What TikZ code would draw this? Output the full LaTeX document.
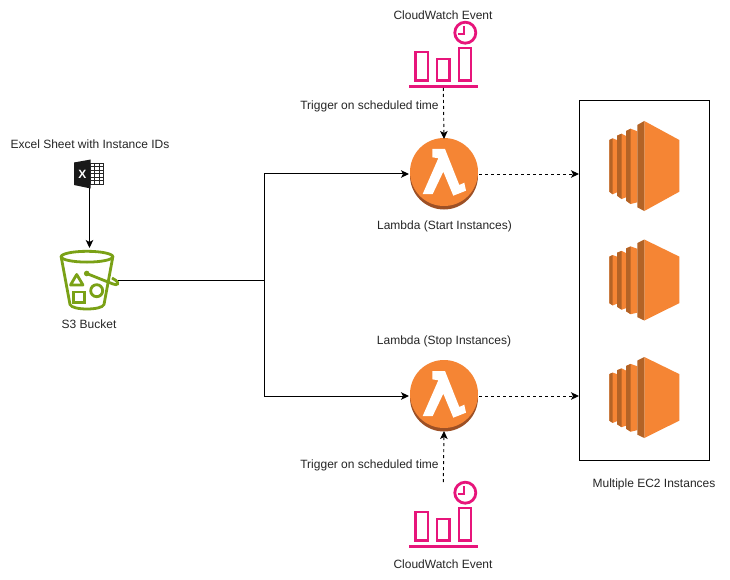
\documentclass[tikz,border=0pt]{standalone}
\usepackage{fontspec}
\setmainfont{Liberation Sans}
\usepackage{tikz}
\usetikzlibrary{arrows.meta}

\definecolor{awsorange}{HTML}{F58534}
\definecolor{awsdark}{HTML}{9D5025}
\definecolor{awsmid}{HTML}{B36326}
\definecolor{s3green}{HTML}{7AA116}
\definecolor{cwpink}{HTML}{E7157B}

\tikzset{
  label/.style={font=\fontsize{12}{14}\selectfont, text=black!85, inner sep=0pt},
  iconbox/.style={inner sep=0pt, outer sep=0pt},
  flow/.style={-{Stealth[length=8pt,width=7.5pt,inset=2pt]}, line width=1pt},
  sched/.style={-{Stealth[length=8pt,width=7.5pt,inset=2pt]}, line width=0.9pt, dash pattern=on 3pt off 3pt},
  lambdaicon/.pic={
    \fill [awsdark] (0,1.5) circle [radius=34];
    \fill [awsorange] (0,-2) circle [radius=34];
    \begin{scope}[yshift=2pt]
    \fill [white] (-11.7,-23) -- (1,-23) -- (15.3,13) -- (20.3,10.7) -- (22,18.7) -- (9.3,23.7) -- (-0.7,-0.3)
      -- (-11.3,22) -- (-21.3,22) -- (-5.7,-13.7) -- (-11.7,-14.7) -- cycle;
    \end{scope}
  },
  ectwoicon/.pic={
    \fill [awsorange] (-34.7,-26) -- (-31.3,-27.7) -- (-27,-26) -- (-27,26.3) -- (-31.3,28.3) -- (-34.7,25.7) -- cycle;
    \fill [awsmid] (-34.7,-26) -- (-31.3,-27.7) -- (-31.3,28.3) -- (-34.7,25.7) -- cycle;
    \fill [awsorange] (-27,-30.3) -- (-22.3,-32.3) -- (-18,-30) -- (-18,31.3) -- (-22.3,33) -- (-27,29.7) -- cycle;
    \fill [awsmid] (-27,-30.3) -- (-22.3,-32.3) -- (-22.3,33) -- (-27,29.7) -- cycle;
    \fill [awsorange] (-18,-35) -- (-13.3,-37.3) -- (-6.7,-34.7) -- (-6.7,36.3) -- (-13.3,38) -- (-18,34.7) -- cycle;
    \fill [awsmid] (-18,-35) -- (-13.3,-37.3) -- (-13.3,38) -- (-18,34.7) -- cycle;
    \fill [awsorange] (0.3,-45) -- (35.3,-26) -- (35.3,25.7) -- (0.3,45) -- cycle;
    \fill [awsmid] (-6.7,-41) -- (0.3,-45) -- (0.3,45) -- (-6.7,41.3) -- cycle;
  },
  watchicon/.pic={
    \begin{scope}[cwpink, line width=2.8pt]
    \draw (-27.7,-3) rectangle (-15.3,25.4);
    \draw (-6.3,4) rectangle (6.4,25.4);
    \draw (15.7,-7) rectangle (27.7,25.4);
    \draw (-34,31.7) -- (34.3,31.7);
    \draw (22,-22.3) circle [radius=10.5];
    \draw [line width=2pt] (21,-29) -- (21,-20.7) -- (14.4,-20.7);
    \end{scope}
  },
}

\begin{document}
\begin{tikzpicture}[x=1pt, y=-1pt]
\useasboundingbox (0,0) rectangle (730,580);
\fill [white] (0,0) rectangle (730,580);

% excel sheet
\node [label] (excellabel) at (90,144) {Excel Sheet with Instance IDs};
\node [iconbox, minimum width=30pt, minimum height=28pt] (excel) at (89.5,174) {};
\fill [black!90] (74,162.5) -- (90.7,159.5) -- (90.7,188.5) -- (74,185) -- cycle;
\node [iconbox, white, font=\fontsize{12}{12}\selectfont\bfseries] (excelx) at (82.3,174) {X};
\draw [black!85, line width=0.8pt] (90.7,163.5) rectangle (103.7,184);
\foreach \y in {166.5,170,173.5,177,180.5} \draw [black!85, line width=0.8pt] (90.7,\y) -- (103.7,\y);
\foreach \x in {94.5,99} \draw [black!85, line width=0.8pt] (\x,163.5) -- (\x,184);

% s3 bucket
\node [iconbox, minimum width=62pt, minimum height=64pt] (bucket) at (87,280) {};
\begin{scope}[s3green, line width=2.8pt]
\draw (87,256.7) circle [x radius=25.8, y radius=5.4];
\draw (61.2,257) -- (70,304.5) .. controls (72,310.5) and (102,310.5) .. (104,304.5) -- (112.8,257);
\draw (86.7,273.5) -- (113,284) .. controls (118,286) and (119,283) .. (116,280.5) -- (112,278);
\fill (86.7,273.5) circle [radius=2.8];
\draw [line join=round] (76.7,274.5) -- (70.5,285) -- (83,285) -- cycle;
\draw (73.7,292) rectangle (84.3,302.5);
\draw (96.7,290.7) circle [radius=6];
\end{scope}
\node [label] (bucketlabel) at (89,324) {S3 Bucket};

% top lambda with its event
\node [label] (eventtoplabel) at (443,15) {CloudWatch Event};
\node [iconbox, minimum width=68pt, minimum height=66pt] (eventtop) at (443.3,55) {};
\pic at (eventtop.center) {watchicon};
\node [label] (triggertop) at (369.5,106) {Trigger on scheduled time};
\node [iconbox, circle, minimum size=70pt] (lambdastart) at (444,174) {};
\pic at (lambdastart.center) {lambdaicon};
\node [label] (startlabel) at (444.5,226) {Lambda (Start Instances)};

% bottom lambda with its event
\node [label] (stoplabel) at (444,341) {Lambda (Stop Instances)};
\node [iconbox, circle, minimum size=70pt] (lambdastop) at (444,396) {};
\pic at (lambdastop.center) {lambdaicon};
\node [label] (triggerbottom) at (369.5,465) {Trigger on scheduled time};
\node [iconbox, minimum width=68pt, minimum height=66pt] (eventbottom) at (443.3,515) {};
\pic at (eventbottom.center) {watchicon};
\node [label] (eventbottomlabel) at (443,564) {CloudWatch Event};

% instances
\node [draw, line width=0.8pt, iconbox, minimum width=130pt, minimum height=360pt] (ectwobox) at (644,280) {};
\pic at (644,166) {ectwoicon};
\pic [yscale=0.9] at (644,280) {ectwoicon};
\pic [yscale=0.9] at (644,397.5) {ectwoicon};
\node [label] (ectwolabel) at (654,484) {Multiple EC2 Instances};

\draw [flow] (excel.south) -- (excel.south |- bucket.north);
\draw [flow] (bucket.east) -- (264,280) |- (lambdastart.west);
\draw [flow] (bucket.east) -- (264,280) |- (lambdastop.west);
\draw [sched] (eventtop.south) -- (lambdastart.north);
\draw [sched] (eventbottom.north) -- (lambdastop.south);
\draw [sched] (lambdastart.east) -- (lambdastart -| ectwobox.west);
\draw [sched] (lambdastop.east) -- (lambdastop -| ectwobox.west);

\end{tikzpicture}
\end{document}
